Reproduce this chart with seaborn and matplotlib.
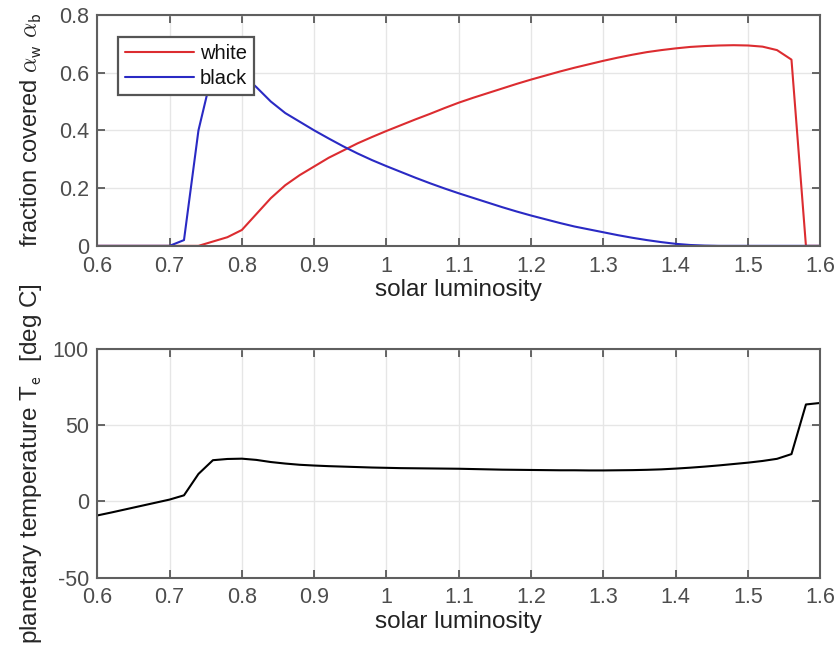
import pandas as pd
import matplotlib
matplotlib.use("Agg")
import matplotlib.pyplot as plt
import seaborn as sns

## Data (solar luminosity in steps of 0.02)
luminosity = [round(0.60 + 0.02 * i, 2) for i in range(51)]

white_frac = [0, 0, 0, 0, 0, 0, 0, 0.0, 0.015, 0.03,
              0.055, 0.11, 0.165, 0.21, 0.245, 0.275, 0.305, 0.33, 0.355, 0.377,
              0.398, 0.418, 0.438, 0.457, 0.477, 0.496, 0.513, 0.529, 0.545, 0.561,
              0.576, 0.590, 0.604, 0.617, 0.629, 0.641, 0.652, 0.662, 0.671, 0.678,
              0.684, 0.689, 0.692, 0.694, 0.695, 0.694, 0.690, 0.678, 0.645, 0.0,
              0.0]

black_frac = [0, 0, 0, 0, 0, 0.0, 0.02, 0.40, 0.61, 0.625,
              0.595, 0.55, 0.50, 0.46, 0.43, 0.400, 0.372, 0.345, 0.320, 0.297,
              0.276, 0.256, 0.236, 0.217, 0.199, 0.182, 0.166, 0.150, 0.134, 0.119,
              0.105, 0.092, 0.079, 0.067, 0.057, 0.047, 0.037, 0.028, 0.020, 0.013,
              0.007, 0.003, 0.001, 0, 0, 0, 0, 0, 0, 0,
              0]

temperature = [-9.2, -7.2, -5.1, -3.0, -0.9, 1.2, 4.0, 18.0, 27.0, 27.8,
               28.0, 27.2, 25.8, 24.8, 24.0, 23.5, 23.1, 22.8, 22.5, 22.2,
               22.0, 21.8, 21.7, 21.6, 21.5, 21.4, 21.2, 21.0, 20.8, 20.7,
               20.6, 20.5, 20.4, 20.4, 20.3, 20.3, 20.4, 20.5, 20.7, 21.0,
               21.5, 22.1, 22.8, 23.6, 24.5, 25.4, 26.5, 27.9, 31.0, 63.5,
               64.5]

x_ticks = [0.6, 0.7, 0.8, 0.9, 1, 1.1, 1.2, 1.3, 1.4, 1.5, 1.6]
x_ticklabels = ["0.6", "0.7", "0.8", "0.9", "1", "1.1", "1.2", "1.3", "1.4", "1.5", "1.6"]
frac_ticks = [0, 0.2, 0.4, 0.6, 0.8]
frac_ticklabels = ["0", "0.2", "0.4", "0.6", "0.8"]
temp_ticks = [-50, 0, 50, 100]
temp_ticklabels = ["-50", "0", "50", "100"]

df_frac = pd.DataFrame({"L": luminosity, "white": white_frac, "black": black_frac})
df_frac = df_frac.melt(id_vars="L", var_name="daisy", value_name="frac")
df_temp = pd.DataFrame({"L": luminosity, "T": temperature})

## Style - matlab-ish look
sns.set_style("whitegrid", {"grid.color": "#e6e6e6", "axes.edgecolor": "#5f5f5f",
                            "xtick.direction": "in", "ytick.direction": "in"})
plt.rcParams["font.family"] = ["Liberation Sans", "DejaVu Sans"]
plt.rcParams["mathtext.fontset"] = "cm"

fig = plt.figure(figsize=(8.38, 6.47), dpi=100)
ax1 = fig.add_axes([0.116, 0.620, 0.863, 0.357])
ax2 = fig.add_axes([0.116, 0.107, 0.863, 0.354])

## Chart 1 - daisy coverage
sns.lineplot(df_frac, x="L", y="frac", hue="daisy", palette={"white": "#dc2c30", "black": "#2a2ac4"},
             linewidth=1.5, ax=ax1)
ax1.set_ylim(0, 0.8)
ax1.set_yticks(frac_ticks)
ax1.set_yticklabels(frac_ticklabels)
ax1.set_ylabel(r"fraction covered $\alpha_{\mathsf{w}}$ $\alpha_{\mathsf{b}}$", fontsize=17)
leg = ax1.legend(loc="upper left", bbox_to_anchor=(0.029, 0.905), fontsize=14.5, frameon=True,
                 fancybox=False, framealpha=1, edgecolor="#555555", handlelength=3.4,
                 handletextpad=0.3, borderpad=0.35, labelspacing=0.3, borderaxespad=0)
leg.get_frame().set_linewidth(1.6)
for t in leg.get_texts():
    t.set_color("#111111")

## Chart 2 - temperature
sns.lineplot(df_temp, x="L", y="T", color="black", linewidth=1.5, ax=ax2)
ax2.set_ylim(-50, 100)
ax2.set_yticks(temp_ticks)
ax2.set_yticklabels(temp_ticklabels)
ax2.set_ylabel(r"planetary temperature T$_{\mathsf{e}}$  [deg C]", fontsize=17.5)

for ax in (ax1, ax2):
    ax.set_xlim(0.6, 1.6)
    ax.set_xticks(x_ticks)
    ax.set_xticklabels(x_ticklabels)
    ax.set_xlabel("solar luminosity", fontsize=17.5, color="#222222", labelpad=2)
    ax.tick_params(labelsize=15.5, colors="#4d4d4d", length=6, width=1.2,
                   top=True, right=True, bottom=True, left=True)
    ax.tick_params(axis="x", pad=7)
    ax.tick_params(axis="y", pad=6)
    ax.yaxis.set_label_coords(-0.074, 0.5)
    ax.grid(True, color="#e6e6e6", linewidth=1)
    for s in ax.spines.values():
        s.set_color("#5f5f5f")
        s.set_linewidth(1.5)

fig.savefig("out.png", dpi=100, facecolor="white")
